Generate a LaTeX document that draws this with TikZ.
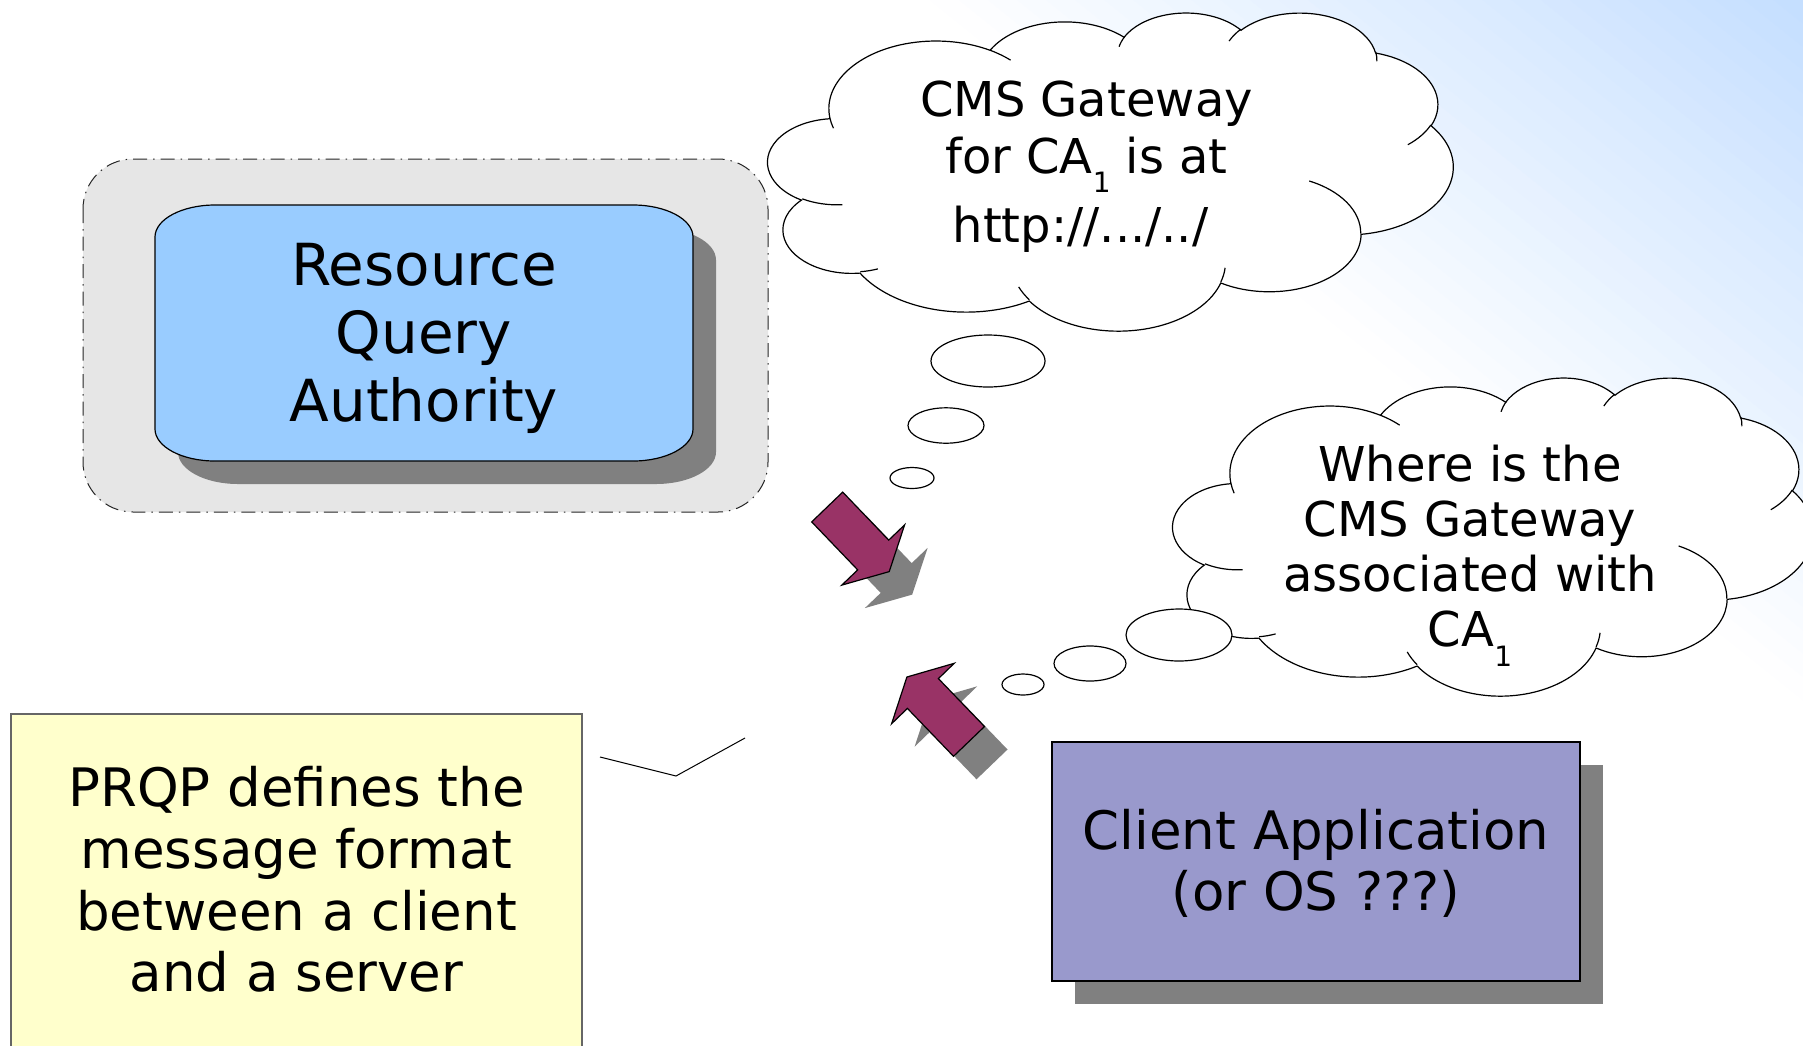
\documentclass[tikz,border=0pt]{standalone}
\usepackage{fontspec}
\setmainfont{DejaVu Sans}

\definecolor{panelgray}{RGB}{230,230,230}
\definecolor{rqablue}{RGB}{153,204,255}
\definecolor{clientpurple}{RGB}{153,153,204}
\definecolor{noteyellow}{RGB}{255,255,204}
\definecolor{arrowplum}{RGB}{153,51,102}
\definecolor{shadowgray}{RGB}{128,128,128}
\definecolor{skyblue}{RGB}{196,222,255}

% Cloud outline arcs: radii in a 432x432 frame, angles given as visual angles
% and converted here to the parametric angles that TikZ arcs use.
\newcommand\cldarc[5]{%
  \pgfmathsetmacro\cldtmpa{atan2((#2)*sin(#4),(#3)*cos(#4))}%
  \pgfmathsetmacro\cldtmpb{atan2((#2)*sin((#4)+(#5)),(#3)*cos((#4)+(#5)))}%
  \pgfmathsetmacro\cldtmpc{\cldtmpa+mod(\cldtmpb-\cldtmpa+720,360)}%
  \expandafter\let\csname cld#1s\endcsname\cldtmpa
  \expandafter\let\csname cld#1e\endcsname\cldtmpc
  \expandafter\def\csname cld#1x\endcsname{#2}%
  \expandafter\def\csname cld#1y\endcsname{#3}%
}
% outline lobes
\cldarc{A}{67.53}{91.90}{-190.48748}{123.78053}
\cldarc{B}{53.33}{72.67}{-144.10238}{89.94523}
\cldarc{C}{43.65}{59.45}{-145.80792}{99.72302}
\cldarc{D}{48.57}{65.95}{-130.98607}{117.24173}
\cldarc{E}{53.33}{72.73}{-78.70888}{109.02692}
\cldarc{F}{67.75}{92.20}{-46.26725}{130.26900}
\cldarc{G}{57.85}{78.67}{0.62502}{114.03333}
\cldarc{H}{67.52}{92.15}{22.45160}{115.17255}
\cldarc{I}{77.20}{105.43}{66.24263}{75.71102}
\cldarc{J}{43.60}{59.18}{-274.94208}{146.73557}
\cldarc{K}{43.45}{59.45}{-246.82850}{152.51885}
% inner strokes where lobes overlap
\cldarc{SA}{43.45}{59.45}{86.74200}{26.42950}
\cldarc{SB}{43.60}{59.18}{73.61047}{11.44747}
\cldarc{SC}{67.52}{92.15}{137.62415}{14.08110}
\cldarc{SD}{67.52}{92.15}{6.45327}{15.99835}
\cldarc{SE}{57.85}{78.67}{-70.29235}{70.91737}
\cldarc{SF}{53.33}{72.73}{30.31803}{27.75150}
\cldarc{SG}{48.57}{65.95}{-13.74433}{14.85890}
\cldarc{SH}{48.57}{65.95}{-149.18145}{18.19537}
\cldarc{SI}{43.65}{59.45}{-163.49427}{17.68635}
\cldarc{SJ}{67.53}{91.90}{-66.70695}{12.31935}
\cldarc{SK}{67.53}{91.90}{157.65435}{11.85817}

% cloud with its frame at (#1,#2), size #3 x #4
\newcommand\drawcloud[4]{%
\begin{scope}[shift={(#1,#2)},xscale=#3/432,yscale=#4/432]
  \filldraw[cloudline,fill=white] (39.00,143.70)
    arc[cld=A] arc[cld=B] arc[cld=C] arc[cld=D] arc[cld=E] arc[cld=F]
    arc[cld=G] arc[cld=H] arc[cld=I] arc[cld=J] arc[cld=K] -- cycle;
  \draw[cloudline]
    (46.93,261.77) arc[cld=SA]
    (69.28,348.99) arc[cld=SB]
    (164.78,390.90) arc[cld=SC]
    (288.27,347.51) arc[cld=SD]
    (341.29,229.54) arc[cld=SE]
    (417.98,153.54) arc[cld=SF]
    (383.24,54.26) arc[cld=SG]
    (290.78,39.52) arc[cld=SH]
    (221.41,47.20) arc[cld=SI]
    (140.00,51.92) arc[cld=SJ]
    (41.27,157.89) arc[cld=SK];
\end{scope}}

\newcommand\subone{\raisebox{-19.5pt}{\fontsize{28}{28}\selectfont 1}}

\begin{document}
\begin{tikzpicture}[x=1pt,y=-1pt,
  boxline/.style={draw=black,line width=1.2pt},
  cloudline/.style={draw=black,line width=1.2pt},
  cld/.style={start angle=\csname cld#1s\endcsname,
              end angle=\csname cld#1e\endcsname,
              x radius=\csname cld#1x\endcsname,
              y radius=\csname cld#1y\endcsname},
  txt/.style={inner sep=0pt,outer sep=0pt,anchor=north,align=center,text=black},
  bubble/.style={draw=black,line width=1.2pt,fill=white},
  dropshadow/.style={fill=shadowgray},
  plumarrow/.style={fill=arrowplum,draw=black,line width=1.2pt,line join=miter}]

\useasboundingbox (0,0) rectangle (1803,1045);
\clip (0,0) rectangle (1803,1045);
\fill[white] (0,0) rectangle (1803,1045);

% sky gradient towards the upper right corner
\foreach \i in {0,...,29}{
  \pgfmathsetmacro\gradt{\i*18.2}
  \pgfmathsetmacro\gradpc{(\i+0.5)*100/30}
  \fill[skyblue!\gradpc!white]
    ({-240.3+\gradt*0.6256},{-938.4-\gradt*0.7802}) --
    ({2100.3+\gradt*0.6256},{938.4-\gradt*0.7802}) --
    ({2100.3+437.9},{938.4-546.1}) --
    ({-240.3+437.9},{-938.4-546.1}) -- cycle;
}

% server side panel
\draw[draw=black!85,line width=1pt,dash pattern=on 14pt off 6pt on 1.5pt off 6pt,
      fill=panelgray,rounded corners=50pt] (83,159) rectangle (768,512);
\fill[dropshadow] (238,228) -- (656,228) arc[start angle=-90,end angle=0,x radius=60,y radius=32]
  -- (716,452) arc[start angle=0,end angle=90,x radius=60,y radius=32]
  -- (238,484) arc[start angle=90,end angle=180,x radius=60,y radius=32]
  -- (178,260) arc[start angle=180,end angle=270,x radius=60,y radius=32] -- cycle;
\draw[boxline,fill=rqablue] (215,205) -- (633,205) arc[start angle=-90,end angle=0,x radius=60,y radius=32]
  -- (693,429) arc[start angle=0,end angle=90,x radius=60,y radius=32]
  -- (215,461) arc[start angle=90,end angle=180,x radius=60,y radius=32]
  -- (155,237) arc[start angle=180,end angle=270,x radius=60,y radius=32] -- cycle;
\node[txt,font=\fontsize{58}{67.7}\selectfont] (rqa) at (424,235.7)
  {\rule{0pt}{50pt}Resource\\Query\\Authority};

% answer cloud
\drawcloud{768}{12}{685}{318}
\filldraw[bubble] (988,361) ellipse[x radius=57,y radius=26];
\filldraw[bubble] (946,425.5) ellipse[x radius=38,y radius=17.7];
\filldraw[bubble] (912,478) ellipse[x radius=22,y radius=10.5];
\node[txt,font=\fontsize{48}{56.6}\selectfont] (gwreply) at (1086.5,74.7)
  {\rule{0pt}{42pt}CMS Gateway\\for CA\subone{} is at\\[13pt]http://.../../\hspace*{12pt}};

% question cloud
\drawcloud{1173}{377}{640}{318}
\filldraw[bubble] (1179,635) ellipse[x radius=53,y radius=26];
\filldraw[bubble] (1090,663.5) ellipse[x radius=36,y radius=17.5];
\filldraw[bubble] (1023,684.5) ellipse[x radius=21,y radius=10.5];
\node[txt,font=\fontsize{48}{55}\selectfont] (gwquery) at (1470,439.7)
  {\rule{0pt}{42pt}Where is the\\CMS Gateway\\associated with\\CA\subone};

% block arrows with drop shadows
\begin{scope}[shift={(23,23)}]
  \fill[dropshadow] (811.7,521.9) -- (842.7,492.1) -- (888.7,540.1) -- (904.6,524.9)
    -- (889.2,571.6) -- (841.8,585.1) -- (857.7,569.9) -- cycle;
  \fill[dropshadow] (984.5,726.5) -- (938.4,678.6) -- (954.2,663.3) -- (906.9,677.0)
    -- (891.6,723.7) -- (907.4,708.4) -- (953.5,756.3) -- cycle;
\end{scope}
\draw[plumarrow] (811.7,521.9) -- (842.7,492.1) -- (888.7,540.1) -- (904.6,524.9)
  -- (889.2,571.6) -- (841.8,585.1) -- (857.7,569.9) -- cycle;
\draw[plumarrow] (984.5,726.5) -- (938.4,678.6) -- (954.2,663.3) -- (906.9,677.0)
  -- (891.6,723.7) -- (907.4,708.4) -- (953.5,756.3) -- cycle;

% client
\fill[dropshadow] (1075,765) rectangle (1603,1004);
\draw[boxline,fill=clientpurple] (1052,742) rectangle (1580,981);
\node[txt,font=\fontsize{53}{61.7}\selectfont] (client) at (1316,803)
  {\rule{0pt}{46pt}Client Application\\(or OS ???)};

% note
\draw[draw=black!60,line width=1.2pt,fill=noteyellow] (11,714) rectangle (582,1070);
\node[txt,font=\fontsize{53}{61.7}\selectfont] (prqp) at (296.5,760.7)
  {\rule{0pt}{46pt}PRQP defines the\\message format\\between a client\\and a server};

\coordinate (tickL) at (600,757);
\coordinate (tickM) at (676,776);
\coordinate (tickR) at (745,738);
\draw[black,line width=1pt] (tickL) -- (tickM) -- (tickR);
\end{tikzpicture}
\end{document}
